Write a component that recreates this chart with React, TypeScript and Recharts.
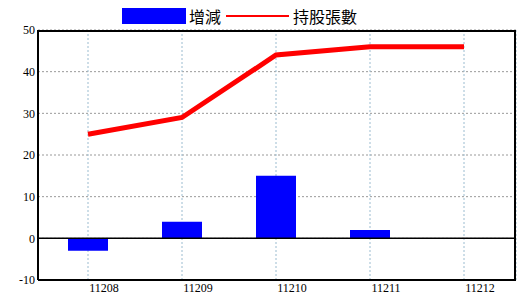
import {
  Bar,
  CartesianGrid,
  ComposedChart,
  Line,
  ReferenceLine,
  XAxis,
  YAxis,
} from "recharts";

const months = ["11208", "11209", "11210", "11211", "11212"];
const changeValues = [-3, 4, 15, 2, 0];
const holdingValues = [25, 29, 44, 46, 46];
const yTicks = [-10, 0, 10, 20, 30, 40, 50];

const seriesNames = { change: "增減", holding: "持股張數" };

const data = months.map((month, i) => ({
  month,
  change: changeValues[i],
  holding: holdingValues[i],
}));

const FONT = "'Liberation Serif', serif";
const CJK = "'Noto Sans CJK TC', sans-serif";

function MonthTick(props: any) {
  const { x, y, payload } = props;
  return (
    <text
      x={x + 16}
      y={y + 12}
      textAnchor="middle"
      fontFamily={FONT}
      fontSize={12}
      fill="#000"
    >
      {payload.value}
    </text>
  );
}

function TopLegend() {
  return (
    <div
      style={{
        position: "absolute",
        left: 122,
        top: 8,
        display: "flex",
        alignItems: "center",
        fontFamily: CJK,
        fontSize: 16,
        lineHeight: "16px",
        color: "#000",
      }}
    >
      <span style={{ width: 64, height: 16, background: "#0000ff" }} />
      <span style={{ marginLeft: 3 }}>{seriesNames.change}</span>
      <span
        style={{ width: 63, height: 2, background: "#ff0000", marginLeft: 5 }}
      />
      <span style={{ marginLeft: 4 }}>{seriesNames.holding}</span>
    </div>
  );
}

export default function App() {
  return (
    <div
      style={{
        position: "absolute",
        left: 0,
        top: 0,
        width: 520,
        height: 300,
        background: "#fff",
      }}
    >
      <ComposedChart
        width={520}
        height={300}
        data={data}
        margin={{ top: 30, right: 4, bottom: 0, left: 0 }}
      >
        <CartesianGrid
          vertical={false}
          stroke="#999"
          strokeDasharray="2 2"
        />
        <CartesianGrid
          horizontal={false}
          stroke="#9bbcd0"
          strokeDasharray="2 2"
        />
        <XAxis
          dataKey="month"
          height={20}
          padding={{ left: 3, right: 5 }}
          axisLine={{ stroke: "#000", strokeWidth: 2 }}
          tickLine={false}
          tickSize={0}
          tickMargin={0}
          tick={<MonthTick />}
          interval={0}
        />
        <YAxis
          width={38}
          domain={[-10, 50]}
          ticks={yTicks}
          interval={0}
          axisLine={{ stroke: "#000", strokeWidth: 2 }}
          tickLine={false}
          tickSize={0}
          tickMargin={3}
          tick={{ fill: "#000", fontSize: 12, fontFamily: FONT }}
        />
        <Bar
          dataKey="change"
          name={seriesNames.change}
          fill="#0000ff"
          barSize={40}
          isAnimationActive={false}
        />
        <ReferenceLine y={0} stroke="#000" strokeWidth={1.5} />
        <Line
          type="linear"
          dataKey="holding"
          name={seriesNames.holding}
          stroke="#ff0000"
          strokeWidth={5}
          dot={false}
          activeDot={false}
          isAnimationActive={false}
        />
      </ComposedChart>
      <div
        style={{
          position: "absolute",
          left: 38,
          top: 30,
          width: 478,
          height: 250,
          boxSizing: "border-box",
          borderTop: "2px solid #000",
          borderRight: "2px solid #000",
          pointerEvents: "none",
        }}
      />
      <TopLegend />
    </div>
  );
}
